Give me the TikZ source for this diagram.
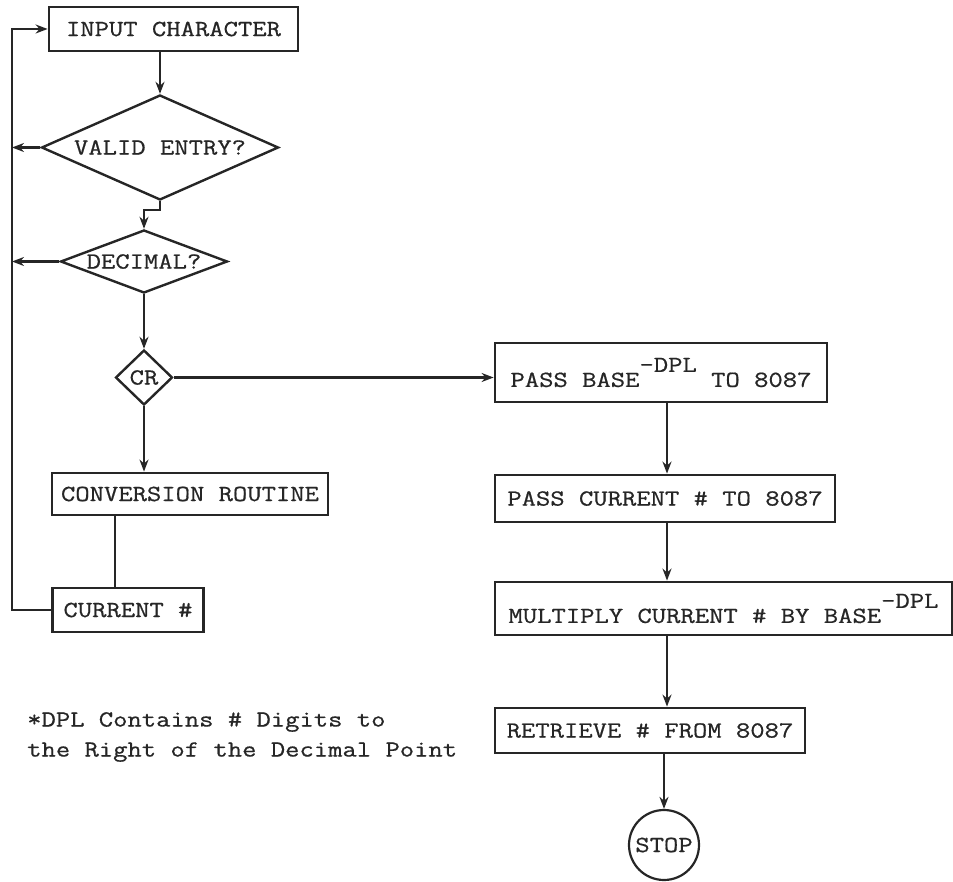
\documentclass[tikz,border=0pt]{standalone}
\usepackage{fontspec}
\newfontfamily\tw[FakeStretch=1.21,FakeBold=0.7]{Latin Modern Mono}
\usetikzlibrary{shapes.geometric,arrows.meta}
\definecolor{ink}{HTML}{262626}
\tikzset{
  box/.style={draw=ink, line width=2.8pt, rectangle, inner sep=0pt, text=ink, font=\tw\fontsize{23}{28}\selectfont},
  dia/.style={draw=ink, line width=2.4pt, diamond, inner sep=0pt, text=ink, font=\tw\fontsize{23}{28}\selectfont},
  conn/.style={draw=ink, line width=2.1pt},
  arr/.style={conn, -{Stealth[length=12pt,width=9pt]}},
  note/.style={text=ink, font=\tw\fontsize{23}{30}\selectfont, align=left, inner sep=0pt}
}
\newcommand{\dpl}{\raisebox{15pt}{-DPL}}
\begin{document}
\begin{tikzpicture}[x=1pt,y=-1pt]
\useasboundingbox (0,0) rectangle (953,882);
% left column
\node[box, minimum width=249pt, minimum height=44pt] (inp) at (173.5,29) {INPUT CHARACTER};
\node[dia, aspect=2.26, minimum width=237pt, minimum height=105pt] (valid) at (160,147.5) {VALID ENTRY?};
\node[dia, aspect=2.65, minimum width=167pt, minimum height=63pt] (dec) at (144,261.5) {DECIMAL?};
\node[dia, aspect=1, minimum width=57pt, minimum height=55pt] (cr) at (144,377.5) {CR};
\node[box, minimum width=276pt, minimum height=42pt] (conv) at (190,494) {CONVERSION ROUTINE};
\node[box, minimum width=151pt, minimum height=44pt] (cur) at (128,610) {CURRENT \#};
% right column
\node[box, minimum width=332pt, minimum height=59pt] (pb) at (661,372.5) {PASS BASE\dpl{} TO 8087};
\node[box, minimum width=340pt, minimum height=47pt] (pc) at (665,498.5) {PASS CURRENT \# TO 8087};
\node[box, minimum width=457pt, minimum height=53pt] (mul) at (723.5,608.5) {MULTIPLY CURRENT \# BY BASE\dpl};
\node[box, minimum width=310pt, minimum height=45pt] (ret) at (650,730.5) {RETRIEVE \# FROM 8087};
\node[box, circle, minimum size=70pt, line width=2.2pt] (stop) at (664,845) {STOP};
% footnote
\node[note, anchor=north west] (fn) at (27,712) {*DPL Contains \# Digits to\\the Right of the Decimal Point};
% helper coordinates
\coordinate (loopx) at (12,0);
\coordinate (colx) at (667,0);
\coordinate (convx) at (115,0);
% connectors
\draw[arr] (valid.north |- inp.south) -- (valid.north);
\draw[arr] (valid.south) -- ++(0,9) -| (dec.north);
\draw[arr] (dec.south) -- (cr.north);
\draw[arr] (cr.south) -- (cr.south |- conv.north);
\draw[conn] (conv.south -| convx) -- (cur.north -| convx);
\draw[arr, line width=2.6pt] (cur.west) -- (cur.west -| loopx) |- (inp.west);
\draw[arr] (valid.west) -- (valid.west -| loopx);
\draw[arr] (dec.west) -- (dec.west -| loopx);
\draw[arr] (cr.east) -- (cr.east -| pb.west);
\draw[arr] (pb.south -| colx) -- (pc.north -| colx);
\draw[arr] (pc.south -| colx) -- (mul.north -| colx);
\draw[arr] (mul.south -| colx) -- (ret.north -| colx);
\draw[arr] (stop.north |- ret.south) -- (stop.north);
\end{tikzpicture}
\end{document}
